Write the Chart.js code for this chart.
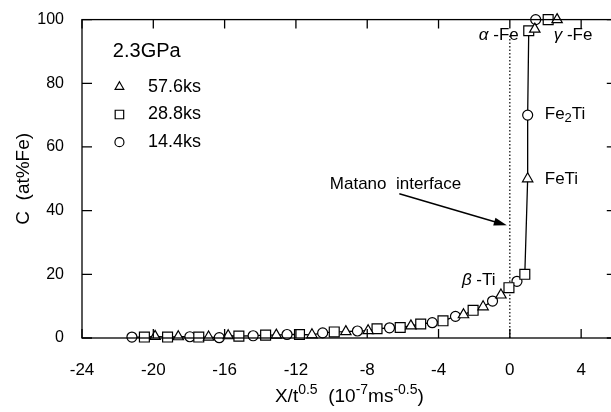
<!DOCTYPE html>
<html>
<head>
<meta charset="utf-8">
<script src="https://cdn.jsdelivr.net/npm/chart.js@4.4.1/dist/chart.umd.min.js"></script>
<style>
  html, body { margin: 0; padding: 0; background: #fff; overflow: hidden; }
  #wrap { width: 611px; height: 412px; overflow: hidden; }
</style>
</head>
<body>
<div id="wrap"><canvas id="difusion" width="625" height="412"></canvas></div>
<script>
const FONT = '"Liberation Sans", Arial, Helvetica, sans-serif';

// 57.6 ks (triangulos)
const xTri = [-19.9, -18.6, -16.9, -15.8, -13.1, -11.1, -9.2, -7.95, -5.55, -2.6, -1.5, -0.5, 1.0, 1.4, 2.65];
const cTri = [0.5, 0.4, 0.3, 0.7, 0.9, 1.0, 2.0, 2.3, 3.8, 7.3, 9.8, 13.5, 50, 97, 100];
// 28.8 ks (cuadrados)
const xSq = [-20.5, -19.2, -17.45, -15.2, -13.7, -11.8, -9.85, -7.45, -6.15, -5.0, -3.75, -2.06, -0.05, 0.84, 1.06, 2.15];
const cSq = [0.3, 0.3, 0.3, 0.6, 0.9, 1.1, 1.9, 2.9, 3.3, 4.4, 5.4, 8.7, 15.8, 20.0, 96.5, 100];
// 14.4 ks (circulos)
const xCirc = [-21.2, -17.95, -16.3, -14.4, -12.5, -10.5, -8.55, -6.75, -4.35, -3.05, -0.97, 0.4, 1.0, 1.45];
const cCirc = [0.3, 0.4, 0.1, 0.7, 1.1, 1.6, 2.2, 3.2, 4.8, 6.8, 11.6, 17.8, 70, 100];

const xTicks = [-24, -20, -16, -12, -8, -4, 0, 4];
const yTicks = [0, 20, 40, 60, 80, 100];

// interfase de Matano
const matanoX = [0, 0];
const matanoC = [0, 95];

const pts = (xs, cs) => xs.map((x, i) => ({ x: x, y: cs[i] }));

// curva: todos los puntos ordenados
const curva = pts(xTri, cTri).concat(pts(xSq, cSq), pts(xCirc, cCirc))
  .sort((a, b) => a.x - b.x || a.y - b.y);

function marker(style, r) {
  return {
    pointStyle: style, pointRadius: r, pointBorderWidth: 1.2,
    pointBorderColor: '#000', pointBackgroundColor: '#fff',
    showLine: false, clip: false
  };
}

// texto con sub/superindices
function runs(ctx, parts, x, y, align) {
  let w = 0;
  parts.forEach(p => {
    ctx.font = (p.it ? 'italic ' : '') + p.s + 'px ' + FONT;
    p.w = ctx.measureText(p.t).width;
    w += p.w;
  });
  let cx = align === 'center' ? x - w / 2 : align === 'right' ? x - w : x;
  ctx.textAlign = 'left';
  ctx.textBaseline = 'middle';
  parts.forEach(p => {
    ctx.font = (p.it ? 'italic ' : '') + p.s + 'px ' + FONT;
    ctx.fillText(p.t, cx, y + (p.dy || 0));
    cx += p.w;
  });
}

const marco = {
  id: 'marco',
  afterDatasetsDraw(chart) {
    const ctx = chart.ctx;
    const a = chart.chartArea;
    const sx = chart.scales.x, sy = chart.scales.y;
    const X = v => sx.getPixelForValue(v), Y = v => sy.getPixelForValue(v);
    ctx.save();
    ctx.strokeStyle = '#000';
    ctx.fillStyle = '#000';
    ctx.lineWidth = 1.3;
    ctx.strokeRect(a.left, a.top, a.right - a.left, a.bottom - a.top);
    ctx.beginPath();
    xTicks.forEach(v => {
      const px = X(v);
      ctx.moveTo(px, a.bottom); ctx.lineTo(px, a.bottom - 9);
      ctx.moveTo(px, a.top); ctx.lineTo(px, a.top + 9);
    });
    yTicks.forEach(v => {
      const py = Y(v);
      ctx.moveTo(a.left, py); ctx.lineTo(a.left + 10, py);
      ctx.moveTo(a.right, py); ctx.lineTo(a.right - 10, py);
    });
    ctx.stroke();

    // flecha de Matano
    const x0 = X(-6.2), y0 = Y(45.3), x1 = X(-0.17), y1 = Y(35.4);
    const ang = Math.atan2(y1 - y0, x1 - x0);
    ctx.lineWidth = 1.4;
    ctx.beginPath();
    ctx.moveTo(x0, y0);
    ctx.lineTo(x1 - 10 * Math.cos(ang), y1 - 10 * Math.sin(ang));
    ctx.stroke();
    ctx.beginPath();
    ctx.moveTo(x1, y1);
    ctx.lineTo(x1 - 13 * Math.cos(ang) + 4 * Math.sin(ang), y1 - 13 * Math.sin(ang) - 4 * Math.cos(ang));
    ctx.lineTo(x1 - 13 * Math.cos(ang) - 4 * Math.sin(ang), y1 - 13 * Math.sin(ang) + 4 * Math.cos(ang));
    ctx.closePath();
    ctx.fill();

    // etiquetas
    runs(ctx, [{ t: 'Matano  interface', s: 17 }], X(-10.1), Y(48.4), 'left');
    runs(ctx, [{ t: '\u03b1', s: 17, it: true }, { t: ' -Fe', s: 17 }], X(0.5), Y(95), 'right');
    runs(ctx, [{ t: '\u03b3', s: 17, it: true }, { t: ' -Fe', s: 17 }], X(2.46), Y(95), 'left');
    runs(ctx, [{ t: 'Fe', s: 17 }, { t: '2', s: 13, dy: 4 }, { t: 'Ti', s: 17 }], X(1.96), Y(70.2), 'left');
    runs(ctx, [{ t: 'FeTi', s: 17 }], X(1.96), Y(49.7), 'left');
    runs(ctx, [{ t: '\u03b2', s: 17, it: true }, { t: ' -Ti', s: 17 }], X(-2.69), Y(18), 'left');

    // leyenda
    runs(ctx, [{ t: '2.3GPa', s: 20 }], X(-22.27), Y(90.1), 'left');
    const ley = [['triangle', 5, '57.6ks', 78.9], ['rect', 6, '28.8ks', 70.2], ['circle', 4.5, '14.4ks', 61.5]];
    ley.forEach(l => {
      ctx.fillStyle = '#fff';
      ctx.lineWidth = 1.2;
      Chart.helpers.drawPoint(ctx, { pointStyle: l[0], radius: l[1], rotation: 0, borderWidth: 1.2 }, X(-21.9), Y(l[3]));
      ctx.fillStyle = '#000';
      runs(ctx, [{ t: l[2], s: 18 }], X(-20.3), Y(l[3]), 'left');
    });

    // titulo eje x
    runs(ctx, [
      { t: 'X/t', s: 19 }, { t: '0.5', s: 14, dy: -7 },
      { t: '  (10', s: 19 }, { t: '-7', s: 14, dy: -7 },
      { t: 'ms', s: 19 }, { t: '-0.5', s: 14, dy: -7 }, { t: ')', s: 19 }
    ], (a.left + a.right) / 2, 397, 'center');
    ctx.restore();
  }
};

const grafico = new Chart(document.getElementById('difusion').getContext('2d'), {
  type: 'scatter',
  data: {
    datasets: [
      Object.assign({ label: '57.6ks', data: pts(xTri, cTri) }, marker('triangle', 6)),
      Object.assign({ label: '28.8ks', data: pts(xSq, cSq) }, marker('rect', 7)),
      Object.assign({ label: '14.4ks', data: pts(xCirc, cCirc) }, marker('circle', 5)),
      {
        label: 'curva', data: curva, showLine: true, pointRadius: 0,
        borderColor: '#000', borderWidth: 1.3, tension: 0
      },
      {
        label: 'Matano', data: pts(matanoX, matanoC), showLine: true, pointRadius: 0,
        borderColor: '#000', borderWidth: 1.2, borderDash: [1.5, 2]
      }
    ]
  },
  options: {
    responsive: false,
    animation: false,
    layout: { padding: { top: 16, right: 7, left: 0, bottom: 0 } },
    plugins: { legend: { display: false }, tooltip: { enabled: false } },
    scales: {
      x: {
        type: 'linear', min: -24, max: 6,
        grid: { display: false }, border: { display: false },
        afterBuildTicks: s => { s.ticks = xTicks.map(v => ({ value: v })); },
        afterFit: s => { s.height = 74; },
        ticks: { color: '#000', padding: 14, maxRotation: 0, font: { family: FONT, size: 17 } }
      },
      y: {
        type: 'linear', min: 0, max: 100,
        grid: { display: false }, border: { display: false },
        afterBuildTicks: s => { s.ticks = yTicks.map(v => ({ value: v })); },
        afterFit: s => { s.width = 82; },
        ticks: { color: '#000', padding: 10, font: { family: FONT, size: 16 } },
        title: {
          display: true, text: 'C  (at%Fe)', color: '#000',
          padding: { top: 12, bottom: 0 }, font: { family: FONT, size: 19 }
        }
      }
    }
  },
  plugins: [marco]
});
</script>
</body>
</html>
